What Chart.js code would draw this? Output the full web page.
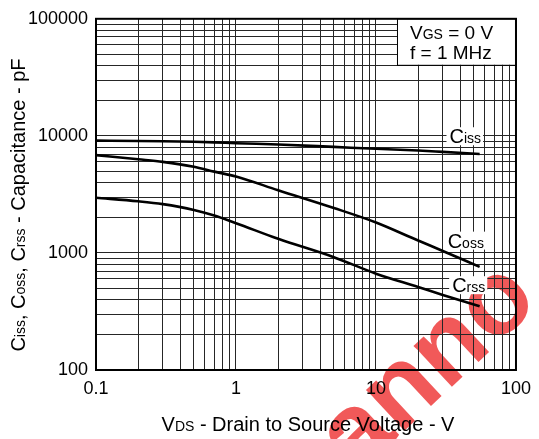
<!DOCTYPE html>
<html>
<head>
<meta charset="utf-8">
<script src="https://cdn.jsdelivr.net/npm/chart.js@4.4.0/dist/chart.umd.min.js"></script>
<style>
  html, body { margin: 0; padding: 0; background: #fff; }
  #c { display: block; }
</style>
</head>
<body>
<canvas id="c" width="539" height="439"></canvas>
<script>
// Capacitance vs VDS
const vds  = [0.1, 0.2, 0.3, 0.5, 0.7, 1, 2, 5, 10, 20, 30, 55];
const ciss = [9100, 9050, 9000, 8900, 8800, 8650, 8450, 8050, 7750, 7500, 7300, 7000];
const coss = [6850, 6310, 6000, 5450, 4950, 4500, 3430, 2420, 1820, 1276, 1040, 760];
const crss = [2960, 2760, 2610, 2330, 2085, 1795, 1320, 920, 665, 512, 438, 350];

const xTickLabels = ['0.1', '1', '10', '100'];
const yTickLabels = ['100', '1000', '10000', '100000'];
const minorSteps = [1, 2, 3, 4, 5, 6, 7, 8, 9];

const FONT = '"Liberation Sans", Arial, Helvetica, sans-serif';

// grid line positions: 1..9 in each decade
function decadeGrid(labels) {
  const out = [];
  const decades = labels.map(Number);
  decades.forEach((p, i) => {
    if (i === decades.length - 1) { out.push(p); return; }
    minorSteps.forEach(d => out.push(d * p));
  });
  return out;
}
const isDecade = v => Math.abs(Math.log10(v) - Math.round(Math.log10(v))) < 1e-9;
const labelFor = (labels, v) => isDecade(v) ? (labels.find(l => Math.abs(Number(l) - v) < 1e-9 * v) || '') : '';

const series = [
  {name: 'Ciss', data: ciss},
  {name: 'Coss', data: coss},
  {name: 'Crss', data: crss}
];

// text with small baseline "subscripts"
function partsWidth(ctx, parts) {
  let w = 0;
  parts.forEach(p => { ctx.font = p[1] + 'px ' + FONT; w += ctx.measureText(p[0]).width; });
  return w;
}
function drawParts(ctx, parts, x, y) {
  parts.forEach(p => {
    ctx.font = p[1] + 'px ' + FONT;
    ctx.fillText(p[0], x, y);
    x += ctx.measureText(p[0]).width;
  });
  return x;
}

const decor = {
  id: 'decor',
  beforeDraw(chart) {
    const ctx = chart.ctx;
    ctx.save();
    ctx.fillStyle = '#fff';
    ctx.fillRect(0, 0, chart.width, chart.height);
    // watermark
    ctx.translate(356, 476);
    ctx.rotate(-43 * Math.PI / 180);
    ctx.font = 'bold 106px ' + FONT;
    ctx.fillStyle = 'rgba(238,52,52,0.82)';
    ctx.textBaseline = 'alphabetic';
    ctx.fillText('anno', 0, 0);
    ctx.restore();
  },
  afterDraw(chart) {
    const ctx = chart.ctx;
    const a = chart.chartArea;
    const xs = chart.scales.x, ys = chart.scales.y;
    ctx.save();
    ctx.fillStyle = '#000';
    ctx.textBaseline = 'alphabetic';

    // curve labels
    const labels = [
      {parts: [['C', 20], ['iss', 14]], v: 33.5, c: 8650},
      {parts: [['C', 20], ['oss', 14]], v: 32.5, c: 1110},
      {parts: [['C', 20], ['rss', 14]], v: 35, c: 462}
    ];
    labels.forEach(l => {
      const x = xs.getPixelForValue(l.v), y = ys.getPixelForValue(l.c);
      const w = partsWidth(ctx, l.parts);
      ctx.fillStyle = '#fff';
      ctx.fillRect(x - 3, y - 16, w + 5, 18);
      ctx.fillStyle = '#000';
      drawParts(ctx, l.parts, x, y);
    });

    // condition box
    const bx = a.right - 119, by = a.top, bw = 119, bh = 46;
    ctx.fillStyle = '#fff';
    ctx.fillRect(bx, by, bw, bh);
    ctx.strokeStyle = '#000';
    ctx.lineWidth = 1;
    ctx.strokeRect(bx + 0.5, by, bw, bh + 0.5);
    ctx.fillStyle = '#000';
    drawParts(ctx, [['V', 19], ['GS', 14], [' = 0 V', 19]], bx + 13, by + 20);
    drawParts(ctx, [['f = 1 MHz', 19]], bx + 13, by + 40);

    // frame
    ctx.lineWidth = 2;
    ctx.strokeRect(a.left, a.top, a.right - a.left, a.bottom - a.top);

    // x title
    const xt = [['V', 20], ['DS', 14], [' - Drain to Source Voltage - V', 20]];
    const xw = partsWidth(ctx, xt);
    drawParts(ctx, xt, 308 - xw / 2, 431);

    // y title
    const yt = [['C', 20], ['iss', 14], [', C', 20], ['oss', 14], [', C', 20], ['rss', 14], [' - Capacitance - pF', 20]];
    const yw = partsWidth(ctx, yt);
    ctx.translate(25, 205);
    ctx.rotate(-Math.PI / 2);
    drawParts(ctx, yt, -yw / 2, 0);
    ctx.restore();
  }
};

new Chart(document.getElementById('c'), {
  type: 'line',
  data: {
    datasets: series.map(s => ({
      label: s.name,
      data: vds.map((v, i) => ({x: v, y: s.data[i]})),
      borderColor: '#000',
      borderWidth: 2.6,
      pointRadius: 0,
      fill: false,
      cubicInterpolationMode: 'monotone'
    }))
  },
  options: {
    responsive: false,
    animation: false,
    devicePixelRatio: 1,
    layout: {padding: {top: 14, right: 19, left: 0, bottom: 0}},
    plugins: {legend: {display: false}, tooltip: {enabled: false}},
    scales: {
      x: {
        type: 'logarithmic', min: 0.1, max: 100,
        afterBuildTicks: s => { s.ticks = decadeGrid(xTickLabels).map(v => ({value: v, major: isDecade(v)})); },
        afterFit: s => { s.height = 69; },
        grid: {color: '#262626', lineWidth: 1, drawTicks: false},
        border: {display: true, color: '#000', width: 2},
        ticks: {
          autoSkip: false, maxRotation: 0, padding: 8, color: '#000',
          font: {family: FONT, size: 18},
          callback: v => labelFor(xTickLabels, v)
        }
      },
      y: {
        type: 'logarithmic', min: 100, max: 100000,
        afterBuildTicks: s => { s.ticks = decadeGrid(yTickLabels).map(v => ({value: v, major: isDecade(v)})); },
        afterFit: s => { s.width = 96; },
        grid: {color: '#262626', lineWidth: 1, drawTicks: false},
        border: {display: true, color: '#000', width: 2},
        ticks: {
          autoSkip: false, padding: 8, color: '#000',
          font: {family: FONT, size: 18},
          callback: v => labelFor(yTickLabels, v)
        }
      }
    }
  },
  plugins: [decor]
});
</script>
</body>
</html>
